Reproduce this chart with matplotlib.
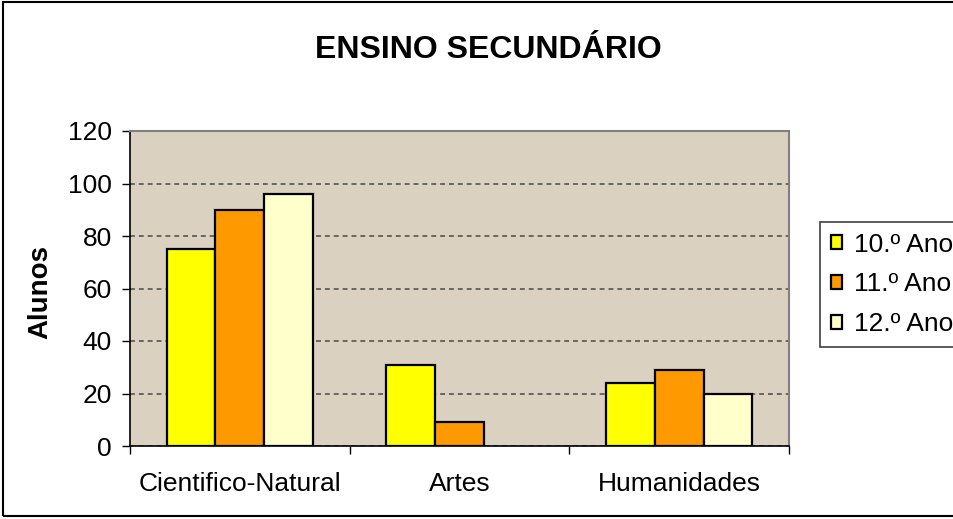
import numpy as np
import matplotlib
matplotlib.use('Agg')
from matplotlib import pyplot as plt
from matplotlib.patches import Rectangle

plt.rcParams['font.family'] = ['Liberation Sans', 'DejaVu Sans']

# dados
cursos = ['Cientifico-Natural', 'Artes', 'Humanidades']
anos = ['10.º Ano', '11.º Ano', '12.º Ano']
ano10 = [75, 31, 24]
ano11 = [90, 9, 29]
ano12 = [96, np.nan, 20]
cores = ['#ffff00', '#ff9900', '#ffffcc']

W, H = 954, 519
fig = plt.figure(figsize=(W / 100, H / 100), dpi=100)
ax = fig.add_axes([130 / W, 1 - 446 / H, (789 - 130) / W, (446 - 131) / H])
ax.set_facecolor('#dad1c1')

x = np.arange(len(cursos))
w = 1 / 4.5
for k, serie in enumerate([ano10, ano11, ano12]):
    ax.bar(x + (k - 1) * w, serie, w, color=cores[k], edgecolor='black',
           linewidth=1.6, label=anos[k], zorder=3)

ax.set_xlim(-0.5, len(cursos) - 0.5)
ax.set_ylim(0, 120)
ax.set_yticks(np.arange(0, 121, 20))
ax.yaxis.grid(True, linestyle=(0, (3.2, 2.6)), color='#4a4a4a', linewidth=1.1, zorder=1)
ax.tick_params(axis='y', direction='out', length=6, width=1, labelsize=19, pad=7)

# marcas nas fronteiras das categorias, etiquetas no centro
ax.set_xticks(np.arange(-0.5, len(cursos), 1))
ax.set_xticklabels([])
ax.set_xticks(x, minor=True)
ax.set_xticklabels(cursos, minor=True)
ax.tick_params(axis='x', which='major', direction='out', length=6, width=1)
ax.tick_params(axis='x', which='minor', length=0, labelsize=19, pad=19)

for s in ['left', 'bottom']:
    ax.spines[s].set_color('black')
    ax.spines[s].set_linewidth(1.2)
for s in ['top', 'right']:
    ax.spines[s].set_color('#808080')
    ax.spines[s].set_linewidth(1.5)
ax.set_axisbelow(True)

fig.text(40 / W, 1 - 292 / H, 'Alunos', rotation=90, fontsize=20,
         fontweight='bold', ha='center', va='center')
fig.text(488 / W, 1 - 50 / H, 'ENSINO SECUNDÁRIO', fontsize=23,
         fontweight='bold', ha='center', va='center')

leg = fig.legend(loc='upper left', bbox_to_anchor=(820 / W, 1 - 222 / H),
                 fontsize=19, fancybox=False, framealpha=1, edgecolor='#404040',
                 handlelength=0.45, handleheight=0.45, handletextpad=0.45,
                 labelspacing=0.6, borderpad=0.4, borderaxespad=0)
leg.get_frame().set_linewidth(1.2)

fig.patches.append(Rectangle((3 / W, 3 / H), 1.0, 1 - 5 / H, transform=fig.transFigure,
                             fill=False, edgecolor='black', linewidth=1.5))

plt.savefig('out.png', dpi=100)
